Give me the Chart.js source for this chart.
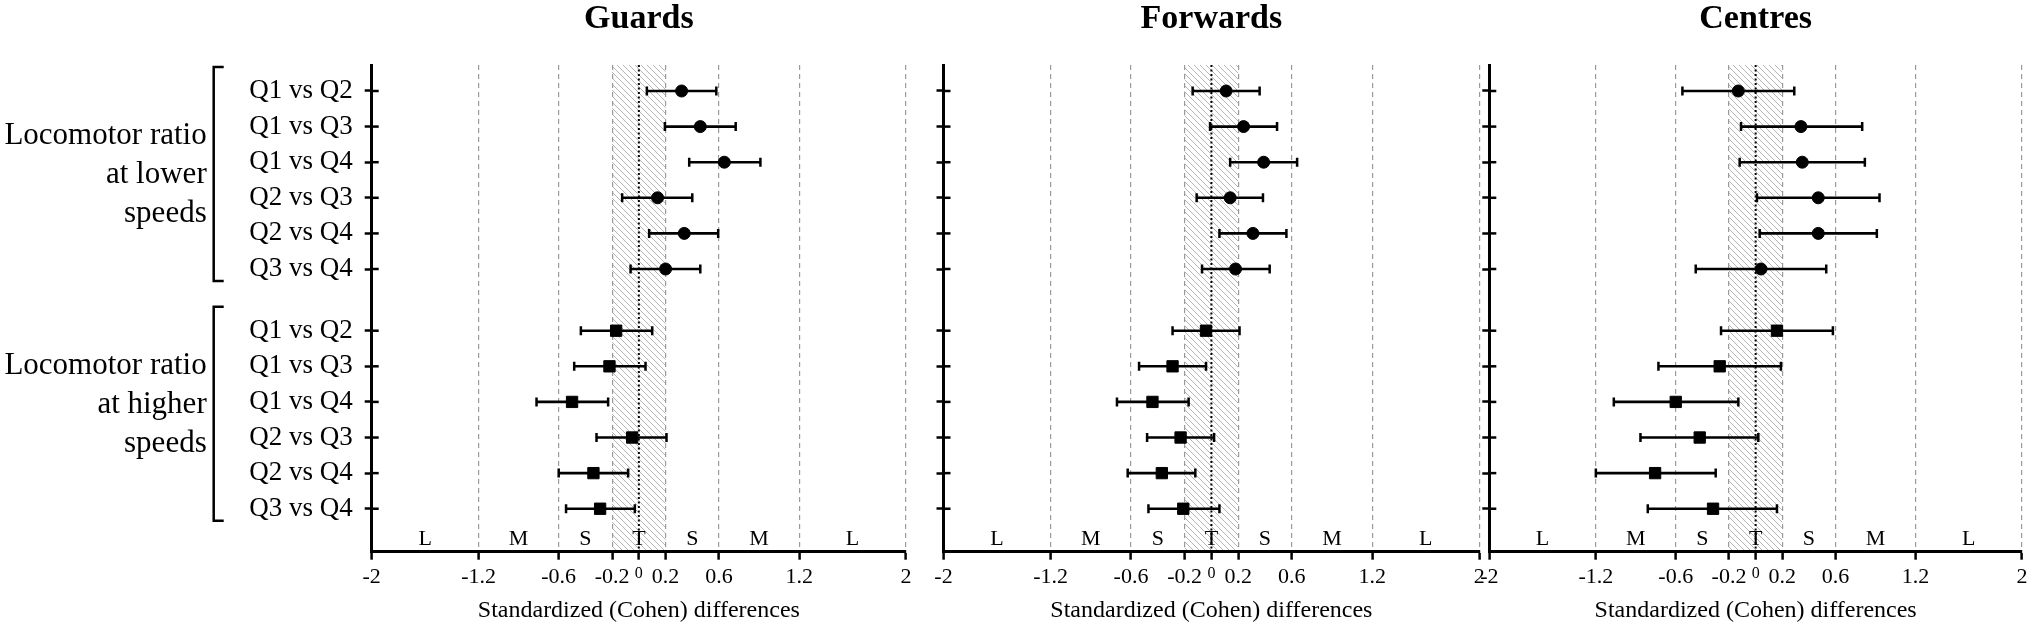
<!DOCTYPE html>
<html>
<head>
<meta charset="utf-8">
<script src="https://cdn.jsdelivr.net/npm/chart.js@4/dist/chart.umd.min.js"></script>
<style>
  html, body { margin: 0; padding: 0; background: #fff; }
  #wrap { position: relative; width: 2031px; height: 629px; overflow: hidden; }
  canvas { position: absolute; top: 0; }
</style>
</head>
<body>
<div id="wrap">
  <canvas id="guards" width="940" height="629" style="left:0px"></canvas>
  <canvas id="forwards" width="570" height="629" style="left:925px"></canvas>
  <canvas id="centres" width="561" height="629" style="left:1470px"></canvas>
</div>
<script>
// comparisons, same for both groups
const rowLabels = ['Q1 vs Q2', 'Q1 vs Q3', 'Q1 vs Q4', 'Q2 vs Q3', 'Q2 vs Q4', 'Q3 vs Q4',
                   'Q1 vs Q2', 'Q1 vs Q3', 'Q1 vs Q4', 'Q2 vs Q3', 'Q2 vs Q4', 'Q3 vs Q4'];
const groupNames = [['Locomotor ratio', 'at lower', 'speeds'], ['Locomotor ratio', 'at higher', 'speeds']];

// x ticks and effect size zones
const xTicks = [-2, -1.2, -0.6, -0.2, 0, 0.2, 0.6, 1.2, 2];
const zoneLetters = ['L', 'M', 'S', 'T', 'S', 'M', 'L'];
const zoneCentres = [-1.6, -0.9, -0.4, 0, 0.4, 0.9, 1.6];

// Guards
const guardsEst = [0.32, 0.46, 0.64, 0.14, 0.34, 0.20, -0.17, -0.22, -0.50, -0.05, -0.34, -0.29];
const guardsLo = [0.06, 0.195, 0.377, -0.125, 0.077, -0.062, -0.434, -0.484, -0.766, -0.317, -0.60, -0.545];
const guardsHi = [0.58, 0.725, 0.91, 0.40, 0.594, 0.46, 0.10, 0.05, -0.23, 0.207, -0.08, -0.03];

// Forwards
const forwardsEst = [0.11, 0.24, 0.39, 0.14, 0.31, 0.18, -0.04, -0.29, -0.44, -0.23, -0.37, -0.21];
const forwardsLo = [-0.14, -0.01, 0.14, -0.11, 0.06, -0.07, -0.29, -0.54, -0.705, -0.48, -0.625, -0.47];
const forwardsHi = [0.36, 0.49, 0.64, 0.385, 0.56, 0.435, 0.21, -0.04, -0.17, 0.02, -0.12, 0.06];

// Centres
const centresEst = [-0.13, 0.34, 0.35, 0.47, 0.47, 0.04, 0.16, -0.27, -0.60, -0.42, -0.755, -0.32];
const centresLo = [-0.55, -0.11, -0.12, 0.01, 0.03, -0.45, -0.26, -0.73, -1.065, -0.865, -1.20, -0.81];
const centresHi = [0.29, 0.80, 0.82, 0.93, 0.91, 0.53, 0.58, 0.19, -0.13, 0.02, -0.30, 0.16];

const FONT = '"Liberation Serif", "Times New Roman", serif';
const GROUP_GAP = 0.733;   // extra space between the two blocks (in rows)
const rowPos = i => i + (i >= 6 ? GROUP_GAP : 0);
const rowValues = rowLabels.map((_, i) => rowPos(i));

// diagonal hatch for the trivial zone
function hatchPattern(ctx) {
    const s = 6;
    const c = document.createElement('canvas');
    c.width = s; c.height = s;
    const p = c.getContext('2d');
    p.fillStyle = '#fff';
    p.fillRect(0, 0, s, s);
    p.strokeStyle = '#b5b5b5';
    p.lineWidth = 1;
    p.beginPath();
    p.moveTo(0, 0); p.lineTo(s, s);
    p.moveTo(-1, s - 1); p.lineTo(1, s + 1);
    p.moveTo(s - 1, -1); p.lineTo(s + 1, 1);
    p.stroke();
    return ctx.createPattern(c, 'repeat');
}

const backdrop = {
    id: 'backdrop',
    beforeDraw(chart) {
        const {ctx, chartArea: a, scales: {x}} = chart;
        const x1 = x.getPixelForValue(-0.2), x2 = x.getPixelForValue(0.2);
        ctx.save();
        ctx.fillStyle = hatchPattern(ctx);
        ctx.fillRect(x1, a.top, x2 - x1, a.bottom - a.top);
        ctx.restore();
    },
    beforeDatasetsDraw(chart) {
        const {ctx, chartArea: a, scales: {x, y}} = chart;
        ctx.save();
        // dotted zero line
        const x0 = x.getPixelForValue(0);
        ctx.strokeStyle = '#000';
        ctx.lineWidth = 2;
        ctx.setLineDash([2, 2.5]);
        ctx.beginPath();
        ctx.moveTo(x0, a.top);
        ctx.lineTo(x0, a.bottom);
        ctx.stroke();
        ctx.setLineDash([]);
        // inner half of the crossing y ticks
        ctx.lineWidth = 2.5;
        rowValues.forEach(v => {
            const py = y.getPixelForValue(v);
            ctx.beginPath();
            ctx.moveTo(a.left, py);
            ctx.lineTo(a.left + 7, py);
            ctx.stroke();
        });
        // zone letters
        ctx.fillStyle = '#000';
        ctx.font = '22px ' + FONT;
        ctx.textAlign = 'center';
        ctx.textBaseline = 'middle';
        zoneLetters.forEach((t, i) => ctx.fillText(t, x.getPixelForValue(zoneCentres[i]), a.bottom - 12));
        ctx.restore();
    }
};

const groupLabels = {
    id: 'groupLabels',
    afterDraw(chart) {
        const {ctx, chartArea: a, scales: {y}} = chart;
        const textX = a.left - 165, brX = a.left - 158;
        const shift = [-5, -15];
        ctx.save();
        ctx.fillStyle = '#000';
        ctx.strokeStyle = '#000';
        ctx.lineWidth = 2.5;
        ctx.font = '31px ' + FONT;
        ctx.textAlign = 'right';
        ctx.textBaseline = 'middle';
        groupNames.forEach((lines, g) => {
            const top = y.getPixelForValue(rowValues[g * 6]);
            const bot = y.getPixelForValue(rowValues[g * 6 + 5]);
            const mid = (top + bot) / 2 + shift[g];
            lines.forEach((t, k) => ctx.fillText(t, textX, mid + (k - 1) * 39));
            ctx.beginPath();
            ctx.moveTo(brX + 10, top - 24);
            ctx.lineTo(brX, top - 24);
            ctx.lineTo(brX, bot + 12);
            ctx.lineTo(brX + 10, bot + 12);
            ctx.stroke();
        });
        ctx.restore();
    }
};

function makePanel(id, title, est, lo, hi, yWidth, padRight, withLabels) {
    const bars = [];
    rowLabels.forEach((_, i) => {
        bars.push({x: lo[i], y: rowValues[i]}, {x: hi[i], y: rowValues[i]}, {x: null, y: null});
    });
    const lower = est.slice(0, 6).map((v, i) => ({x: v, y: rowValues[i]}));
    const higher = est.slice(6).map((v, i) => ({x: v, y: rowValues[i + 6]}));

    return new Chart(document.getElementById(id), {
        type: 'line',
        data: {
            datasets: [
                {data: lower, showLine: false, pointStyle: 'circle', pointRadius: 6,
                 pointBackgroundColor: '#000', pointBorderColor: '#000', pointBorderWidth: 1},
                {data: higher, showLine: false, pointStyle: 'rect', pointRadius: 8,
                 pointBackgroundColor: '#000', pointBorderColor: '#000', pointBorderWidth: 1},
                {data: bars, spanGaps: false, borderColor: '#000', borderWidth: 2.6, tension: 0,
                 pointStyle: 'line', pointRotation: 90, pointRadius: 4.5,
                 pointBorderWidth: 2.5, pointBorderColor: '#000', pointBackgroundColor: '#000'}
            ]
        },
        options: {
            responsive: false,
            animation: false,
            events: [],
            layout: {padding: {top: 0, bottom: 0, left: 0, right: padRight}},
            plugins: {
                legend: {display: false},
                tooltip: {enabled: false},
                title: {
                    display: true, text: title, color: '#000', fullSize: false,
                    font: {family: FONT, size: 34, weight: 'bold', lineHeight: 0.8},
                    padding: {top: 6, bottom: 31.8}
                }
            },
            scales: {
                x: {
                    type: 'linear', position: 'bottom', min: -2, max: 2,
                    afterBuildTicks: s => { s.ticks = xTicks.map(v => ({value: v})); },
                    afterFit: s => { s.height = 77.3; s.paddingLeft = 0; s.paddingRight = 0; },
                    ticks: {
                        autoSkip: false, maxRotation: 0, padding: 4, color: '#000',
                        callback: v => String(v),
                        font: c => ({family: FONT, size: c.tick && c.tick.value === 0 ? 16 : 22})
                    },
                    grid: {
                        lineWidth: 1.2,
                        color: c => (c.tick && (c.tick.value === -2 || c.tick.value === 0)) ? 'rgba(0,0,0,0)' : '#9a9a9a',
                        drawTicks: true, tickLength: 8, tickColor: '#000', tickWidth: 2.5
                    },
                    border: {display: true, color: '#000', width: 3, dash: [5, 4]},
                    title: {
                        display: true, text: 'Standardized (Cohen) differences', color: '#000',
                        font: {family: FONT, size: 24, lineHeight: 1.2}, padding: {top: 0, bottom: 3.6}
                    }
                },
                y: {
                    type: 'linear', position: 'left', reverse: true, min: -0.73, max: 12.94,
                    afterBuildTicks: s => { s.ticks = rowValues.map(v => ({value: v})); },
                    afterFit: s => { s.width = yWidth; s.paddingTop = 0; s.paddingBottom = 0; },
                    ticks: {
                        autoSkip: false, padding: 12, color: '#000',
                        font: {family: FONT, size: 27},
                        callback: (v, i) => withLabels ? rowLabels[i] : ''
                    },
                    grid: {drawOnChartArea: false, drawTicks: true, tickLength: 7, tickColor: '#000', tickWidth: 2.5},
                    border: {display: true, color: '#000', width: 3}
                }
            }
        },
        plugins: withLabels ? [backdrop, groupLabels] : [backdrop]
    });
}

makePanel('guards', 'Guards', guardsEst, guardsLo, guardsHi, 371.7, 34, true);
makePanel('forwards', 'Forwards', forwardsEst, forwardsLo, forwardsHi, 18.5, 15.7, false);
makePanel('centres', 'Centres', centresEst, centresLo, centresHi, 19.3, 4.3, false);
</script>
</body>
</html>
